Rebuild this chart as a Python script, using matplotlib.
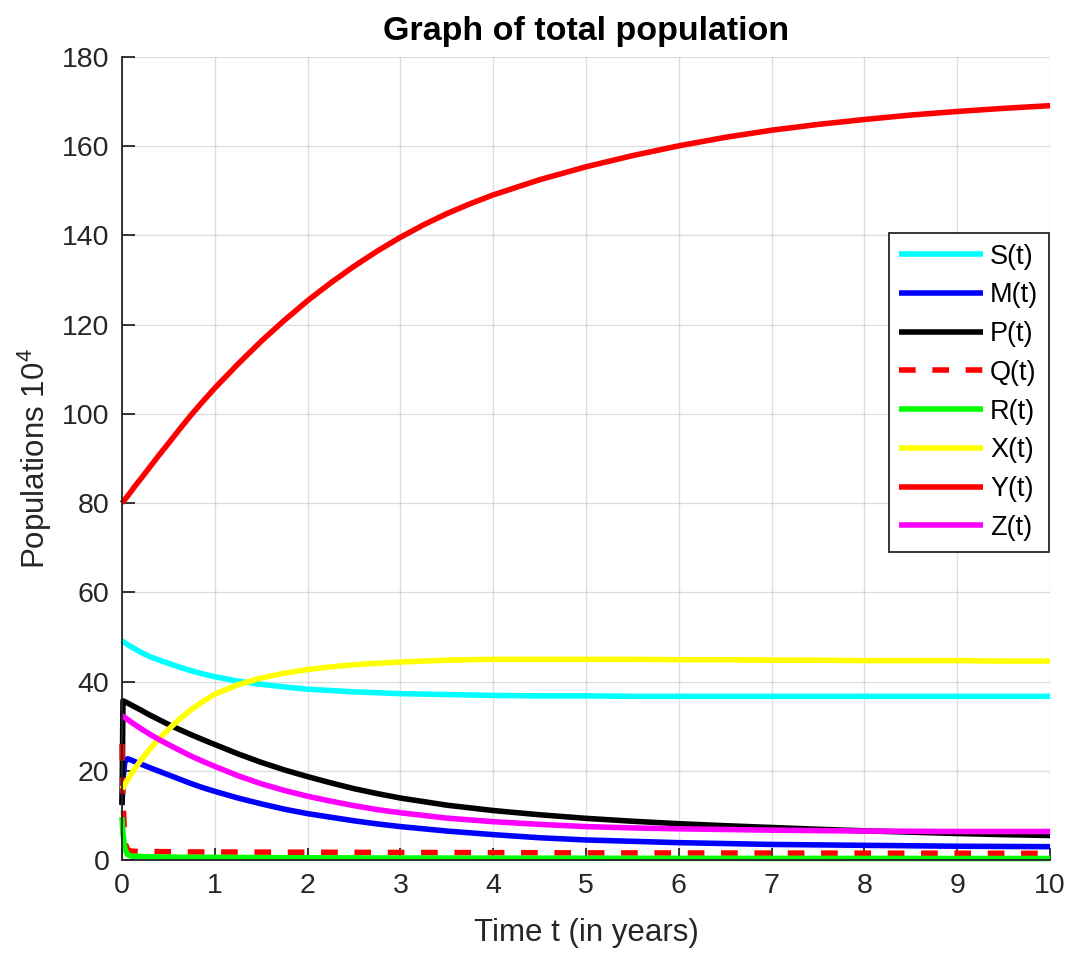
import matplotlib
matplotlib.use("Agg")
import matplotlib.pyplot as plt

plt.rcParams['font.family'] = ['Liberation Sans', 'DejaVu Sans']
plt.rcParams['mathtext.default'] = 'regular'

# Time grid (years) and population trajectories (in units of 10^4)
t = [0, 0.01, 0.03, 0.06, 0.1, 0.15, 0.2, 0.3, 0.4, 0.5, 0.625, 0.75, 0.875, 1,
     1.25, 1.5, 1.75, 2, 2.25, 2.5, 2.75, 3, 3.25, 3.5, 3.75, 4, 4.5, 5,
     5.5, 6, 6.5, 7, 7.5, 8, 8.5, 9, 9.5, 10]

S = [49.2, 49.0, 48.7, 48.3, 47.8, 47.2, 46.6, 45.6, 44.8, 44.1, 43.2, 42.4, 41.7, 41.1,
     40.1, 39.4, 38.8, 38.3, 38.0, 37.7, 37.5, 37.3, 37.2, 37.1, 37.0, 36.9, 36.8, 36.8,
     36.7, 36.7, 36.7, 36.7, 36.7, 36.7, 36.7, 36.7, 36.7, 36.7]
M = [12.5, 18.0, 22.0, 22.7, 22.4, 21.95, 21.55, 20.7, 19.9, 19.1, 18.1, 17.1, 16.2, 15.4,
     13.9, 12.6, 11.4, 10.4, 9.6, 8.8, 8.1, 7.5, 7.0, 6.5, 6.1, 5.7, 5.0, 4.5,
     4.2, 3.9, 3.7, 3.5, 3.4, 3.3, 3.2, 3.1, 3.05, 3.0]
P = [12.3, 35.7, 35.5, 35.2, 34.75, 34.2, 33.65, 32.5, 31.45, 30.4, 29.2, 28.05, 26.95, 25.9,
     23.8, 21.9, 20.2, 18.7, 17.3, 16.0, 14.9, 13.9, 13.1, 12.3, 11.7, 11.1, 10.15, 9.35,
     8.7, 8.15, 7.7, 7.3, 6.9, 6.55, 6.25, 5.95, 5.7, 5.5]
Q = [26.0, 14.0, 4.0, 2.3, 2.0, 1.95, 1.9, 1.9, 1.88, 1.86, 1.84, 1.82, 1.81, 1.8,
     1.79, 1.78, 1.76, 1.75, 1.74, 1.72, 1.71, 1.7, 1.69, 1.68, 1.67, 1.66, 1.63, 1.6,
     1.59, 1.58, 1.57, 1.56, 1.55, 1.54, 1.53, 1.52, 1.51, 1.5]
R = [9.6, 6.0, 2.5, 1.2, 0.9, 0.85, 0.8, 0.72, 0.68, 0.65, 0.64, 0.62, 0.61, 0.6,
     0.57, 0.55, 0.52, 0.5, 0.49, 0.48, 0.46, 0.45, 0.45, 0.44, 0.43, 0.42, 0.41, 0.4,
     0.39, 0.38, 0.38, 0.37, 0.37, 0.36, 0.36, 0.35, 0.35, 0.35]
X = [15.9, 16.25, 16.95, 18.0, 19.3, 20.85, 22.3, 24.9, 27.2, 29.3, 31.7, 33.8, 35.6, 37.2,
     39.3, 40.8, 41.9, 42.7, 43.3, 43.8, 44.1, 44.4, 44.6, 44.8, 44.9, 45.0, 45.0, 45.0,
     45.0, 44.9, 44.9, 44.8, 44.8, 44.7, 44.7, 44.7, 44.6, 44.6]
Y = [80.0, 80.3, 80.8, 81.6, 82.7, 84.1, 85.4, 88.1, 90.8, 93.4, 96.7, 99.9, 102.9, 105.8,
     111.2, 116.3, 121.0, 125.4, 129.4, 133.1, 136.5, 139.6, 142.4, 144.9, 147.1, 149.1,
     152.5, 155.4, 157.9, 160.1, 162.0, 163.6, 164.9, 166.0, 167.0, 167.8, 168.5, 169.1]
Z = [32.4, 32.25, 31.95, 31.5, 30.9, 30.2, 29.5, 28.2, 27.0, 25.9, 24.55, 23.25, 22.1, 21.0,
     18.9, 17.1, 15.6, 14.3, 13.2, 12.2, 11.3, 10.6, 10.0, 9.4, 9.0, 8.6, 8.0, 7.5,
     7.2, 7.0, 6.85, 6.7, 6.6, 6.5, 6.45, 6.4, 6.4, 6.4]

labels = ['S(t)', 'M(t)', 'P(t)', 'Q(t)', 'R(t)', 'X(t)', 'Y(t)', 'Z(t)']
series = [S, M, P, Q, R, X, Y, Z]
colors = ['#00ffff', '#0000ff', '#000000', '#ff0000', '#00ff00', '#ffff00', '#ff0000', '#ff00ff']
styles = ['-', '-', '-', '--', '-', '-', '-', '-']

xticks = list(range(0, 11))
yticks = list(range(0, 181, 20))

axcol = '#262626'
fig = plt.figure(figsize=(10.78, 9.57), dpi=100)
ax = fig.add_axes([0.1132, 0.1013, 0.8609, 0.8391])

lw = 4.0
for vals, lab, c, ls in zip(series, labels, colors, styles):
    line, = ax.plot(t, vals, color=c, lw=lw, ls=ls, label=lab, clip_on=False,
                    solid_capstyle='butt', solid_joinstyle='round')
    if ls == '--':
        line.set_dashes((3.0, 3.0))

ax.set_xlim(0, 10)
ax.set_ylim(0, 180)
ax.set_xticks(xticks)
ax.set_yticks(yticks)
ax.grid(True, color='#262626', alpha=0.15, lw=1.0)
ax.set_axisbelow(True)

for side in ['top', 'right']:
    ax.spines[side].set_visible(False)
for side in ['left', 'bottom']:
    ax.spines[side].set_color(axcol)
    ax.spines[side].set_linewidth(1.3)

ax.tick_params(direction='in', length=9, width=1.3, colors=axcol,
               labelsize=20.5, pad=9)

ax.set_title('Graph of total population', fontsize=24.5, fontweight='bold',
             color='black', pad=12)
ax.set_xlabel('Time t (in years)', fontsize=22.5, color=axcol, labelpad=14)
ax.set_ylabel('Populations 10$^{4}$', fontsize=22.5, color=axcol, labelpad=6)

leg = ax.legend(loc='upper right', bbox_to_anchor=(0.999, 0.781), fontsize=19.5,
                frameon=True, fancybox=False, framealpha=1, edgecolor=axcol,
                handlelength=3.1, handletextpad=0.25, labelspacing=0.47,
                borderpad=0.4, borderaxespad=0)
leg.get_frame().set_linewidth(1.3)
for txt in leg.get_texts():
    txt.set_color('black')

fig.savefig('out.png', dpi=100)
